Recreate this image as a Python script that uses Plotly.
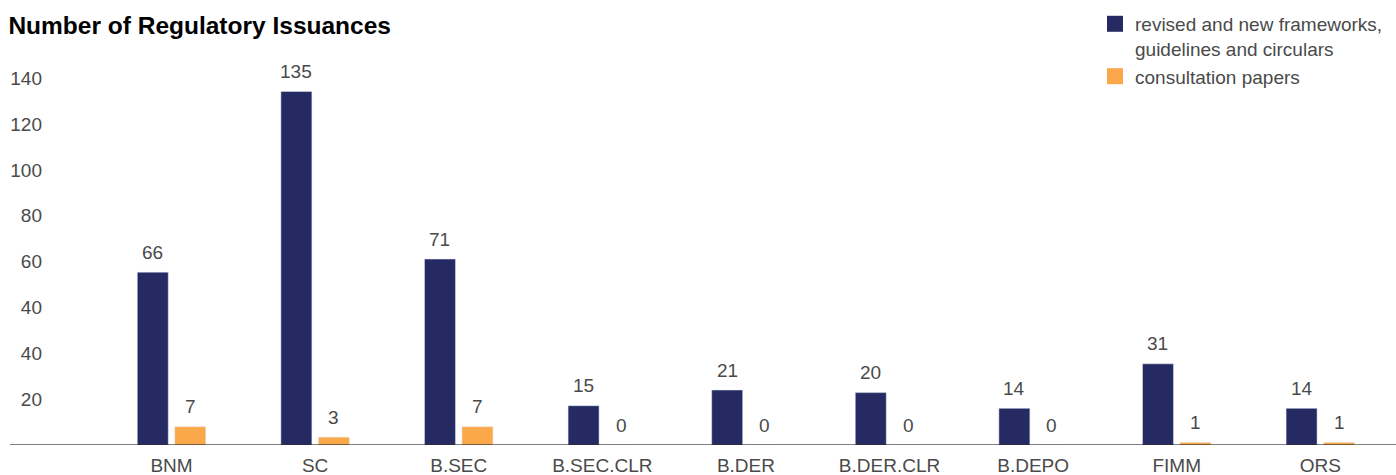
import plotly.graph_objects as go

# ---- data -------------------------------------------------------------
categories = ["BNM", "SC", "B.SEC", "B.SEC.CLR", "B.DER", "B.DER.CLR", "B.DEPO", "FIMM", "ORS"]
frameworks = [66, 135, 71, 15, 21, 20, 14, 31, 14]
consultation = [7, 3, 7, 0, 0, 0, 0, 1, 1]
series_names = ["revised and new frameworks,<br>guidelines and circulars", "consultation papers"]
y_tick_values = [17.5, 35, 52.5, 70, 87.5, 105, 122.5, 140]
y_tick_labels = ["20", "40", "40", "60", "80", "100", "120", "140"]

# ---- style ------------------------------------------------------------
NAVY = "#252b62"
ORANGE = "#faa84a"
TEXT = "#4a4a4a"
FONT = "Helvetica, Arial, 'Liberation Sans', sans-serif"
BARGAP = 0.478
BARGROUPGAP = 0.173
ML = 43
PW = 1396 - ML

idx = list(range(len(categories)))

fig = go.Figure()
fig.add_trace(go.Bar(x=idx, y=frameworks, marker_color=NAVY, showlegend=False,
                     hoverinfo="y"))
fig.add_trace(go.Bar(x=idx, y=consultation, marker_color=ORANGE, showlegend=False,
                     hoverinfo="y"))

# legend-only entries (square markers)
for name, col in zip(series_names, [NAVY, ORANGE]):
    fig.add_trace(go.Scatter(x=[None], y=[None], mode="markers", name=name,
                             marker=dict(symbol="square", size=16, color=col)))

# value labels
off = (1 - BARGAP) / 4
annotations = []
for series, sign in ((frameworks, -1), (consultation, 1)):
    for i, v in zip(idx, series):
        annotations.append(dict(x=i + sign * off, y=v, xref="x", yref="y",
                                text=str(v), showarrow=False, yanchor="middle",
                                yshift=20, font=dict(size=19, color=TEXT, family=FONT)))

fig.update_layout(
    width=1396, height=475,
    margin=dict(l=ML, r=0, t=60, b=30, autoexpand=False),
    paper_bgcolor="white", plot_bgcolor="white",
    barmode="group", bargap=BARGAP, bargroupgap=BARGROUPGAP,
    font=dict(family=FONT, size=19, color=TEXT),
    title=dict(text="<b>Number of Regulatory Issuances</b>", xref="container", x=0.006,
               xanchor="left", yref="container", y=1 - 25 / 475, yanchor="middle",
               font=dict(size=24.5, color="#000000", family=FONT)),
    xaxis=dict(tickmode="array", tickvals=idx, ticktext=categories,
               range=[-0.895, 8.527], showgrid=False, zeroline=False, showline=False,
               ticks="", ticklabelstandoff=7, automargin=False,
               tickfont=dict(size=19, color=TEXT)),
    yaxis=dict(range=[0, 147], tickmode="array", tickvals=y_tick_values,
               ticktext=y_tick_labels, showgrid=False, zeroline=False, showline=False,
               ticks="", automargin=False, tickfont=dict(size=19, color=TEXT)),
    legend=dict(x=(1095 - ML) / PW, y=1.143, xanchor="left", yanchor="top", valign="top",
                font=dict(size=19, color=TEXT), bgcolor="rgba(0,0,0,0)",
                tracegroupgap=0),
    annotations=annotations,
    shapes=[dict(type="line", xref="paper", yref="y", x0=-33 / PW, x1=1, y0=0, y1=0,
                 line=dict(color="rgba(0,0,0,0.5)", width=2), layer="above")],
)

fig.write_html("out.html")
